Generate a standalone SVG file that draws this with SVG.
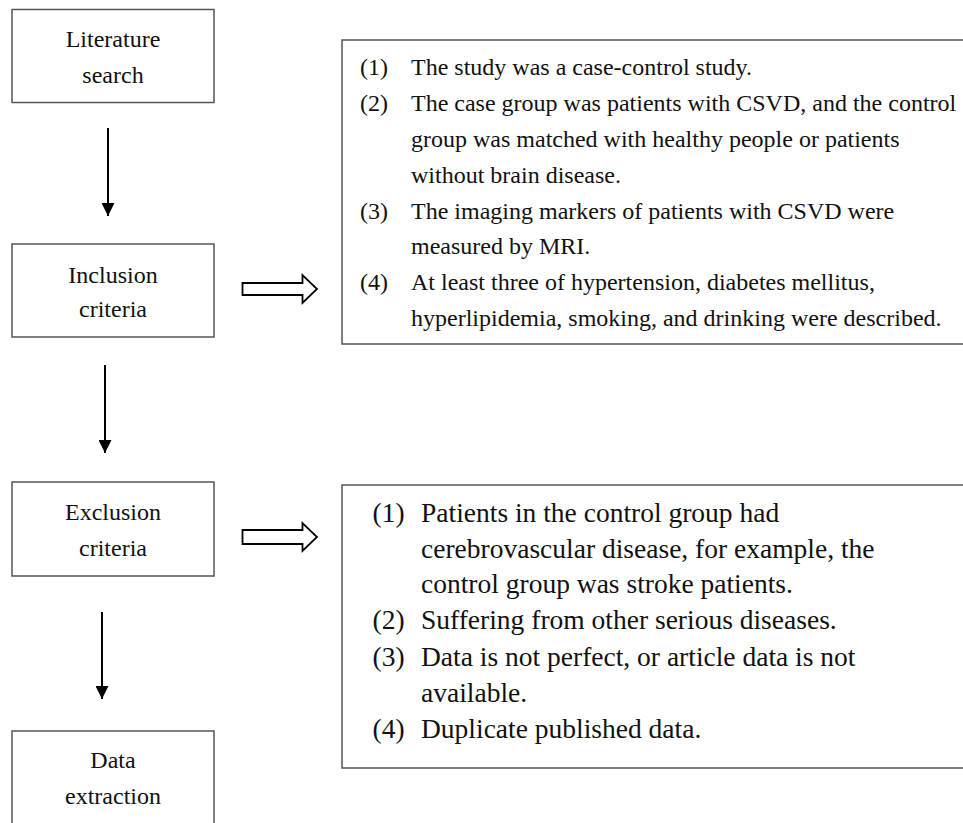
<svg xmlns="http://www.w3.org/2000/svg" width="963" height="823" viewBox="0 0 963 823">
<style>
.box{fill:#fff;stroke:#555;stroke-width:1.5}
.lbl{font-family:"Liberation Serif","Times New Roman",serif;font-size:24px;fill:#111;text-anchor:middle}
.t1{font-family:"Liberation Serif","Times New Roman",serif;font-size:24px;fill:#111}
.t2{font-family:"Liberation Serif","Times New Roman",serif;font-size:27.5px;fill:#111}
.conn{stroke:#000;stroke-width:2;fill:none}
.hollow{fill:#fff;stroke:#000;stroke-width:1.8;stroke-linejoin:miter}
</style>
<defs>
<marker id="ah" markerUnits="userSpaceOnUse" markerWidth="13" markerHeight="13" refX="13" refY="6.5" orient="auto">
<path d="M0,0 L13,6.5 L0,13 z" fill="#000"/>
</marker>
</defs>
<rect width="963" height="823" fill="#fff"/>
<g id="literature-search">
<rect class="box" x="12" y="9.5" width="202" height="93"/>
<text class="lbl" x="113" y="47">Literature</text>
<text class="lbl" x="113" y="83">search</text>
</g>
<g id="inclusion-criteria">
<rect class="box" x="12" y="244" width="202" height="93"/>
<text class="lbl" x="113" y="283">Inclusion</text>
<text class="lbl" x="113" y="317">criteria</text>
</g>
<g id="exclusion-criteria">
<rect class="box" x="12" y="482" width="202" height="94"/>
<text class="lbl" x="113" y="520">Exclusion</text>
<text class="lbl" x="113" y="556">criteria</text>
</g>
<g id="data-extraction">
<rect class="box" x="12" y="731" width="202" height="100"/>
<text class="lbl" x="113" y="768">Data</text>
<text class="lbl" x="113" y="804">extraction</text>
</g>
<g id="inclusion-list">
<rect class="box" x="342" y="40" width="640" height="304"/>
<text class="t1" x="360" y="75">(1)</text><text class="t1" x="411" y="75">The study was a case-control study.</text>
<text class="t1" x="360" y="111">(2)</text><text class="t1" x="411" y="111">The case group was patients with CSVD, and the control</text>
<text class="t1" x="411" y="147">group was matched with healthy people or patients</text>
<text class="t1" x="411" y="183">without brain disease.</text>
<text class="t1" x="360" y="219">(3)</text><text class="t1" x="411" y="219">The imaging markers of patients with CSVD were</text>
<text class="t1" x="411" y="254">measured by MRI.</text>
<text class="t1" x="360" y="290">(4)</text><text class="t1" x="411" y="290">At least three of hypertension, diabetes mellitus,</text>
<text class="t1" x="411" y="326">hyperlipidemia, smoking, and drinking were described.</text>
</g>
<g id="exclusion-list">
<rect class="box" x="342" y="485" width="640" height="283"/>
<text class="t2" x="372.5" y="522">(1)</text><text class="t2" x="421" y="522">Patients in the control group had</text>
<text class="t2" x="421" y="557.5">cerebrovascular disease, for example, the</text>
<text class="t2" x="421" y="593">control group was stroke patients.</text>
<text class="t2" x="372.5" y="629">(2)</text><text class="t2" x="421" y="629">Suffering from other serious diseases.</text>
<text class="t2" x="372.5" y="665.5">(3)</text><text class="t2" x="421" y="665.5">Data is not perfect, or article data is not</text>
<text class="t2" x="421" y="701.5">available.</text>
<text class="t2" x="372.5" y="738">(4)</text><text class="t2" x="421" y="738">Duplicate published data.</text>
</g>
<g id="connectors">
<line class="conn" x1="108" y1="128" x2="108" y2="216" marker-end="url(#ah)"/>
<line class="conn" x1="105" y1="365" x2="105" y2="453" marker-end="url(#ah)"/>
<line class="conn" x1="102" y1="612" x2="102" y2="699" marker-end="url(#ah)"/>
<polygon class="hollow" points="242.5,283 302.5,283 302.5,275 317,289 302.5,303 302.5,295 242.5,295"/>
<polygon class="hollow" points="242.5,530 302.5,530 302.5,523 317,537 302.5,551 302.5,544 242.5,544"/>
</g>
</svg>
